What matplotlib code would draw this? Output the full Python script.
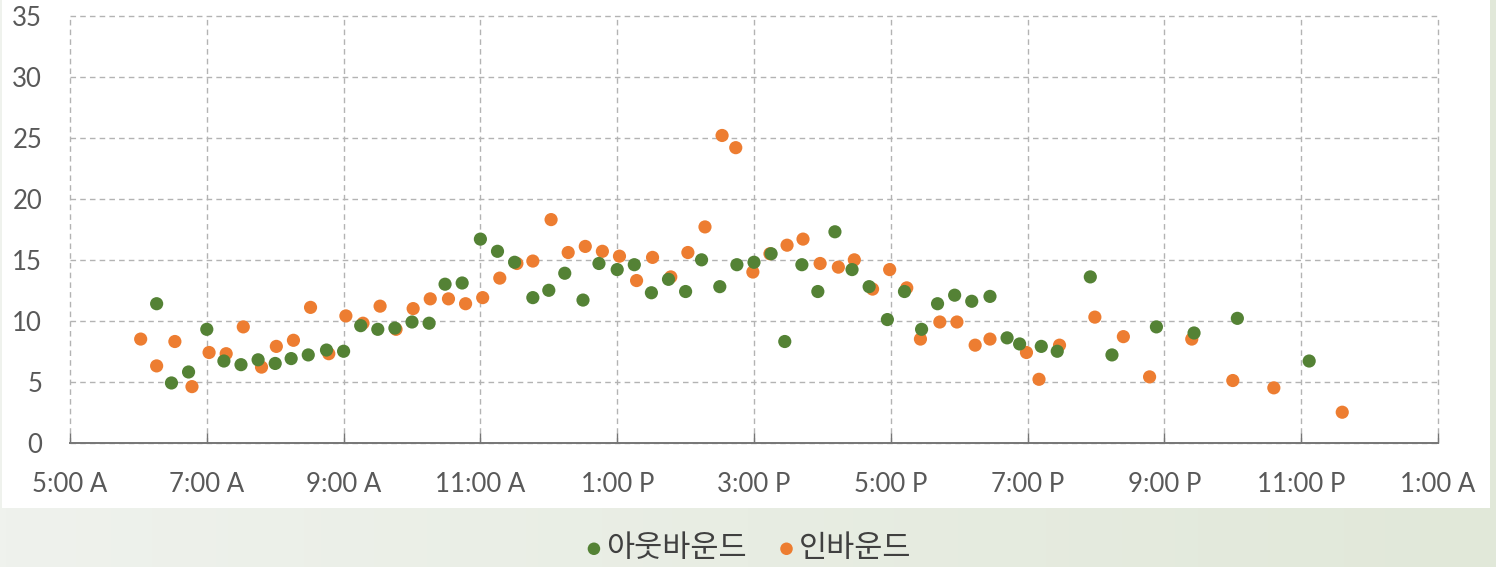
import matplotlib.pyplot as plt
import numpy as np
from matplotlib.colors import LinearSegmentedColormap
from matplotlib.patches import Rectangle

# 아웃바운드 (green)
out_times = ['6:16', '6:29', '6:44', '7:00', '7:15', '7:30', '7:45', '8:00', '8:14', '8:29',
             '8:45', '9:00', '9:15', '9:30', '9:45', '10:00', '10:15', '10:29', '10:44', '11:00',
             '11:15', '11:30', '11:46', '12:00', '12:14', '12:30', '12:44', '13:00', '13:15', '13:30',
             '13:45', '14:00', '14:14', '14:30', '14:45', '15:00', '15:15', '15:27', '15:42', '15:56',
             '16:11', '16:26', '16:41', '16:57', '17:12', '17:27', '17:41', '17:56', '18:11', '18:27',
             '18:42', '18:53', '19:12', '19:26', '19:55', '20:14', '20:53', '21:26', '22:04', '23:07']
out_values = [11.4, 4.9, 5.8, 9.3, 6.7, 6.4, 6.8, 6.5, 6.9, 7.2,
              7.6, 7.5, 9.6, 9.3, 9.4, 9.9, 9.8, 13.0, 13.1, 16.7,
              15.7, 14.8, 11.9, 12.5, 13.9, 11.7, 14.7, 14.2, 14.6, 12.3,
              13.4, 12.4, 15.0, 12.8, 14.6, 14.8, 15.5, 8.3, 14.6, 12.4,
              17.3, 14.2, 12.8, 10.1, 12.4, 9.3, 11.4, 12.1, 11.6, 12.0,
              8.6, 8.1, 7.9, 7.5, 13.6, 7.2, 9.5, 9.0, 10.2, 6.7]

# 인바운드 (orange)
in_times = ['6:02', '6:16', '6:32', '6:47', '7:02', '7:17', '7:32', '7:48', '8:01', '8:16',
            '8:31', '8:47', '9:02', '9:17', '9:32', '9:46', '10:01', '10:16', '10:32', '10:47',
            '11:02', '11:17', '11:32', '11:46', '12:02', '12:17', '12:32', '12:47', '13:02', '13:17',
            '13:31', '13:47', '14:02', '14:17', '14:32', '14:44', '14:59', '15:14', '15:29', '15:43',
            '15:58', '16:14', '16:28', '16:44', '16:59', '17:14', '17:26', '17:43', '17:58', '18:14',
            '18:27', '18:59', '19:10', '19:28', '19:59', '20:24', '20:47', '21:24', '22:00', '22:36', '23:36']
in_values = [8.5, 6.3, 8.3, 4.6, 7.4, 7.3, 9.5, 6.2, 7.9, 8.4,
             11.1, 7.3, 10.4, 9.8, 11.2, 9.3, 11.0, 11.8, 11.8, 11.4,
             11.9, 13.5, 14.7, 14.9, 18.3, 15.6, 16.1, 15.7, 15.3, 13.3,
             15.2, 13.6, 15.6, 17.7, 25.2, 24.2, 14.0, 15.5, 16.2, 16.7,
             14.7, 14.4, 15.0, 12.6, 14.2, 12.7, 8.5, 9.9, 9.9, 8.0,
             8.5, 7.4, 5.2, 8.0, 10.3, 8.7, 5.4, 8.5, 5.1, 4.5, 2.5]

tick_hours = list(range(5, 26, 2))
tick_labels = ['5:00 A', '7:00 A', '9:00 A', '11:00 A', '1:00 P', '3:00 P',
               '5:00 P', '7:00 P', '9:00 P', '11:00 P', '1:00 A']


def to_hours(times):
    res = []
    for t in times:
        h, m = t.split(':')
        res.append(int(h) + int(m) / 60)
    return res


fig = plt.figure(figsize=(14.96, 5.67), dpi=100)

# light green gradient background, white chart area on top
bg = fig.add_axes([0, 0, 1, 1], zorder=-10)
cmap = LinearSegmentedColormap.from_list('bg', ['#eff2ed', '#e1e8d9'])
bg.imshow(np.linspace(0, 1, 256).reshape(1, -1), aspect='auto', cmap=cmap, extent=[0, 1, 0, 1])
bg.axis('off')
fig.patches.append(Rectangle((0.0015, 0.104), 0.9945, 0.896, transform=fig.transFigure,
                             facecolor='white', edgecolor='none', zorder=-5))

ax = fig.add_axes([70 / 1496, 124.3 / 567, 1368 / 1496, 426.7 / 567])
ax.patch.set_alpha(0)

ax.scatter(to_hours(in_times), in_values, s=90, color='#ED7D31', edgecolors='none',
           label='인바운드', zorder=3)
ax.scatter(to_hours(out_times), out_values, s=90, color='#548235', edgecolors='none',
           label='아웃바운드', zorder=3)

ax.set_xlim(5, 25)
ax.set_ylim(0, 35)
ax.set_xticks(tick_hours, tick_labels)
ax.set_yticks(range(0, 36, 5))

ax.grid(True, linestyle=(0, (4, 3)), color='#b3b3b3', linewidth=1.0, zorder=1)
ax.set_axisbelow(True)
for ln in ax.get_xgridlines() + ax.get_ygridlines():
    ln.set_clip_on(False)

for side in ['left', 'right', 'top']:
    ax.spines[side].set_visible(False)
ax.spines['bottom'].set_color('#767676')
ax.spines['bottom'].set_linewidth(1.4)

ax.tick_params(axis='x', direction='in', length=7.5, width=1.0, color='#767676',
               pad=21, labelsize=18.5, labelcolor='#595959')
ax.tick_params(axis='y', length=0, pad=20, labelsize=18.5, labelcolor='#595959')
for lab in ax.get_xticklabels() + ax.get_yticklabels():
    lab.set_family(['Lato', 'DejaVu Sans'])

h, l = ax.get_legend_handles_labels()
fig.legend(h[::-1], l[::-1], loc='center', bbox_to_anchor=(0.5, 0.033), ncol=2,
           frameon=False, prop={'family': ['Noto Sans CJK KR', 'DejaVu Sans'], 'size': 22},
           handlelength=0.6, handletextpad=0.1, columnspacing=1.0, markerscale=0.95,
           labelcolor='#404040')

fig.savefig('out.png', dpi=100)
